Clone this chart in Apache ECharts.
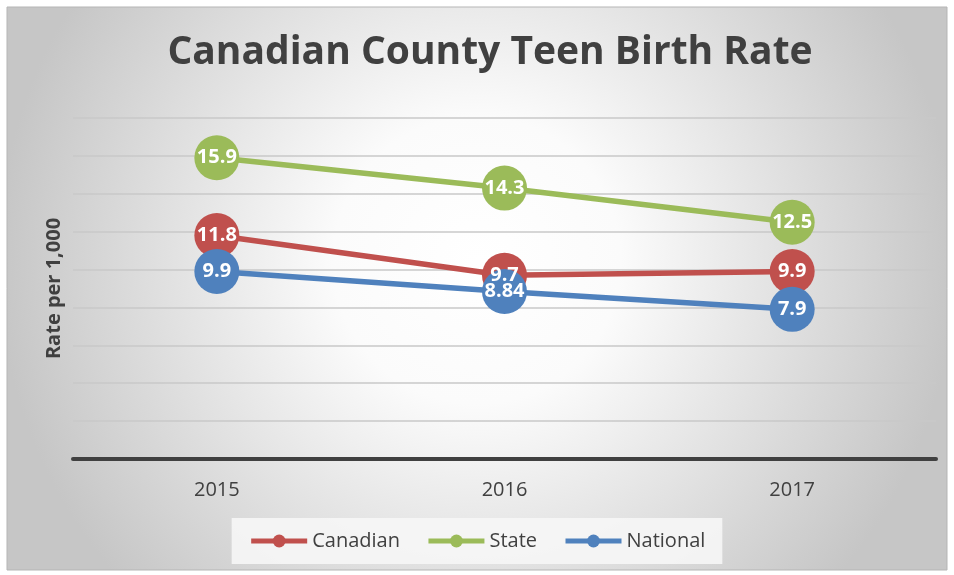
<!DOCTYPE html>
<html>
<head>
<meta charset="utf-8">
<script src="https://cdn.jsdelivr.net/npm/echarts@6/dist/echarts.min.js"></script>
<style>
  html, body { margin: 0; padding: 0; background: #fff; }
  #chart { width: 954px; height: 575px; }
</style>
</head>
<body>
<div id="chart"></div>
<script>
// teen birth rate per 1,000
var years = ['2015', '2016', '2017'];
var canadian = [11.8, 9.7, 9.9];
var state = [15.9, 14.3, 12.5];
var national = [9.9, 8.84, 7.9];

var chart = echarts.init(document.getElementById('chart'));

function mkSeries(name, data, color) {
    return {
        name: name,
        type: 'line',
        data: data,
        symbol: 'circle',
        symbolSize: 45,
        lineStyle: { width: 5.5, color: color },
        itemStyle: { color: color },
        label: {
            show: true,
            position: 'inside',
            color: '#fff',
            fontWeight: 'bold',
            fontSize: 20,
            fontFamily: 'Open Sans'
        },
        emphasis: { disabled: true }
    };
}

var option = {
    backgroundColor: '#fff',
    animation: false,
    textStyle: { fontFamily: 'Open Sans' },
    graphic: [{
        type: 'rect',
        z: -100,
        silent: true,
        shape: { x: 7, y: 7, width: 940, height: 563 },
        style: {
            fill: {
                type: 'radial', x: 0.5, y: 0.45, r: 0.85,
                colorStops: [
                    { offset: 0, color: '#ffffff' },
                    { offset: 0.3, color: '#fbfbfb' },
                    { offset: 1, color: '#c6c6c6' }
                ]
            },
            stroke: '#b5b5b5',
            lineWidth: 1
        }
    }],
    title: {
        text: 'Canadian County Teen Birth Rate',
        left: 485,
        top: 28,
        textAlign: 'center',
        textStyle: {
            fontFamily: 'Open Sans',
            fontSize: 39,
            fontWeight: 'bold',
            color: '#404040'
        }
    },
    legend: {
        data: ['Canadian', 'State', 'National'],
        top: 518,
        left: 'center',
        padding: [13, 17],
        itemGap: 26,
        itemWidth: 56,
        itemHeight: 16,
        backgroundColor: 'rgba(246,246,246,0.9)',
        lineStyle: { width: 5 },
        textStyle: { fontSize: 20, color: '#404040' }
    },
    grid: { left: 73, right: 18, top: 118, bottom: 116 },
    xAxis: {
        type: 'category',
        data: years,
        axisLine: { lineStyle: { color: '#404040', width: 4 } },
        axisTick: { show: false },
        axisLabel: { color: '#404040', fontSize: 20, margin: 21 }
    },
    yAxis: {
        type: 'value',
        min: 0,
        max: 18,
        interval: 2,
        name: 'Rate per 1,000',
        nameLocation: 'middle',
        nameGap: 9,
        nameTextStyle: { fontSize: 20, fontWeight: 'bold', color: '#404040' },
        axisLabel: { show: false },
        axisLine: { show: false },
        axisTick: { show: false },
        splitLine: { lineStyle: { color: '#c9c9c9', width: 1.5 } }
    },
    series: [
        mkSeries('Canadian', canadian, '#C0504D'),
        mkSeries('State', state, '#9BBB59'),
        mkSeries('National', national, '#4F81BD')
    ]
};
chart.setOption(option);
</script>
</body>
</html>
